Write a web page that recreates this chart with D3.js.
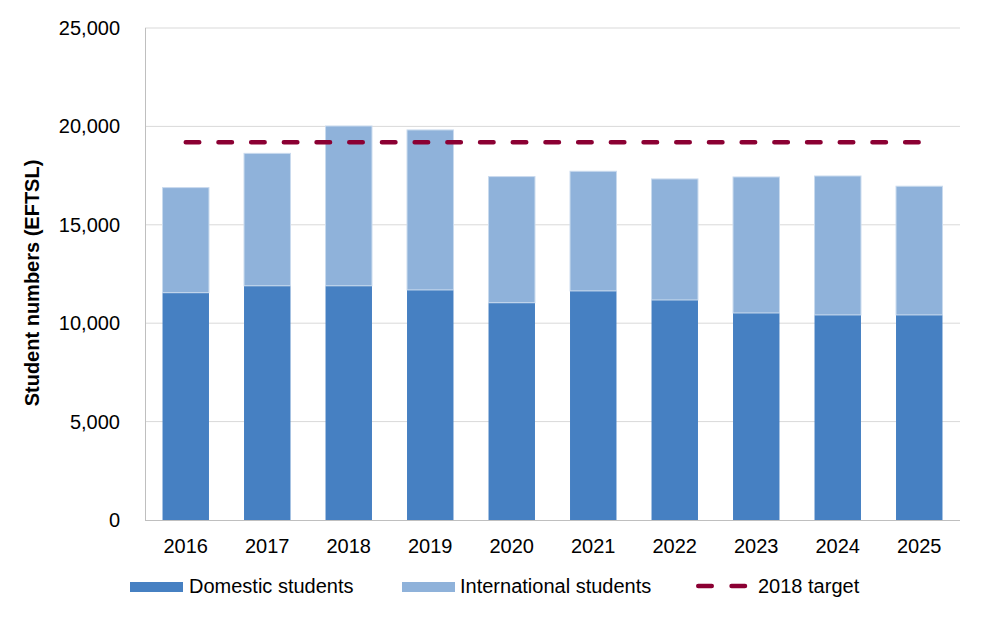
<!DOCTYPE html>
<html><head><meta charset="utf-8">
<script src="https://cdn.jsdelivr.net/npm/d3@7"></script>
<style>body{margin:0;background:#fff}svg{display:block}text{font-family:"Liberation Sans",Arial,sans-serif;fill:#000}</style>
</head><body><svg id="c" width="984" height="617"></svg>
<script>
const years = ["2016","2017","2018","2019","2020","2021","2022","2023","2024","2025"];
const domestic = [11550,11900,11900,11690,11040,11640,11180,10520,10420,10420];
const international = [5340,6730,8120,8130,6410,6080,6150,6910,7060,6540];
const target = 19200;
const yTicks = [0,5000,10000,15000,20000,25000];

const svg = d3.select("#c");
const m = {l:145, r:960, t:28, b:520};
const x = d3.scaleBand().domain(years).range([m.l, m.r]).paddingInner(0.43).paddingOuter(0.215);
const y = d3.scaleLinear().domain([0,25000]).range([m.b, m.t]);
const fs = "20px";

// gridlines
svg.append("g").selectAll("line").data(yTicks.filter(d=>d>0)).join("line")
  .attr("x1", m.l).attr("x2", m.r).attr("y1", d=>y(d)).attr("y2", d=>y(d))
  .attr("stroke", "#d9d9d9").attr("stroke-width", 1);

// bars
const data = years.map((yr,i)=>({yr, d:domestic[i], n:international[i]}));
svg.append("g").selectAll("rect").data(data).join("rect")
  .attr("x", d=>x(d.yr)).attr("width", x.bandwidth())
  .attr("y", d=>y(d.d)).attr("height", d=>y(0)-y(d.d))
  .attr("fill", "#4680c2");
svg.append("g").selectAll("rect").data(data).join("rect")
  .attr("x", d=>x(d.yr)).attr("width", x.bandwidth())
  .attr("y", d=>y(d.d+d.n)).attr("height", d=>y(d.d)-y(d.d+d.n))
  .attr("fill", "#8fb2da").attr("stroke", "#c9daee").attr("stroke-width", 1);

// axes lines
svg.append("line").attr("x1", m.l+0.5).attr("x2", m.l+0.5).attr("y1", m.t).attr("y2", m.b)
  .attr("stroke", "#bfbfbf");
svg.append("line").attr("x1", m.l).attr("x2", m.r).attr("y1", m.b+0.5).attr("y2", m.b+0.5)
  .attr("stroke", "#bfbfbf");

// target line
const c0 = x(years[0]) + x.bandwidth()/2, c1 = x(years[years.length-1]) + x.bandwidth()/2;
svg.append("line").attr("x1", c0).attr("x2", c1).attr("y1", y(target)).attr("y2", y(target))
  .attr("stroke", "#8b0033").attr("stroke-width", 4.5).attr("stroke-linecap", "round")
  .attr("stroke-dasharray", "13.5,19.2");

// y tick labels
svg.append("g").selectAll("text").data(yTicks).join("text")
  .attr("x", 120).attr("y", d=>y(d)).attr("dy", "0.35em").attr("text-anchor", "end")
  .style("font-size", fs).text(d=>d3.format(",")(d));

// x labels
svg.append("g").selectAll("text").data(years).join("text")
  .attr("x", d=>x(d)+x.bandwidth()/2).attr("y", 546).attr("dy","0.35em").attr("text-anchor","middle")
  .style("font-size", fs).text(d=>d);

// y title
svg.append("text").attr("transform", "translate(39,283) rotate(-90)").attr("text-anchor","middle")
  .style("font-size","20px").style("font-weight","bold").text("Student numbers (EFTSL)");

// legend
const lg = svg.append("g");
const ly = 586;
lg.append("rect").attr("x",130).attr("y",582).attr("width",53).attr("height",10).attr("fill","#4680c2");
lg.append("text").attr("x",189).attr("y",ly).attr("dy","0.35em").style("font-size",fs).text("Domestic students");
lg.append("rect").attr("x",402).attr("y",582).attr("width",53).attr("height",10).attr("fill","#8fb2da");
lg.append("text").attr("x",460).attr("y",ly).attr("dy","0.35em").style("font-size",fs).text("International students");
lg.append("line").attr("x1",698.25).attr("x2",745).attr("y1",ly).attr("y2",ly)
  .attr("stroke","#8b0033").attr("stroke-width",4.5).attr("stroke-linecap","round").attr("stroke-dasharray","13.5,19.8");
lg.append("text").attr("x",758).attr("y",ly).attr("dy","0.35em").style("font-size",fs).text("2018 target");
</script></body></html>
